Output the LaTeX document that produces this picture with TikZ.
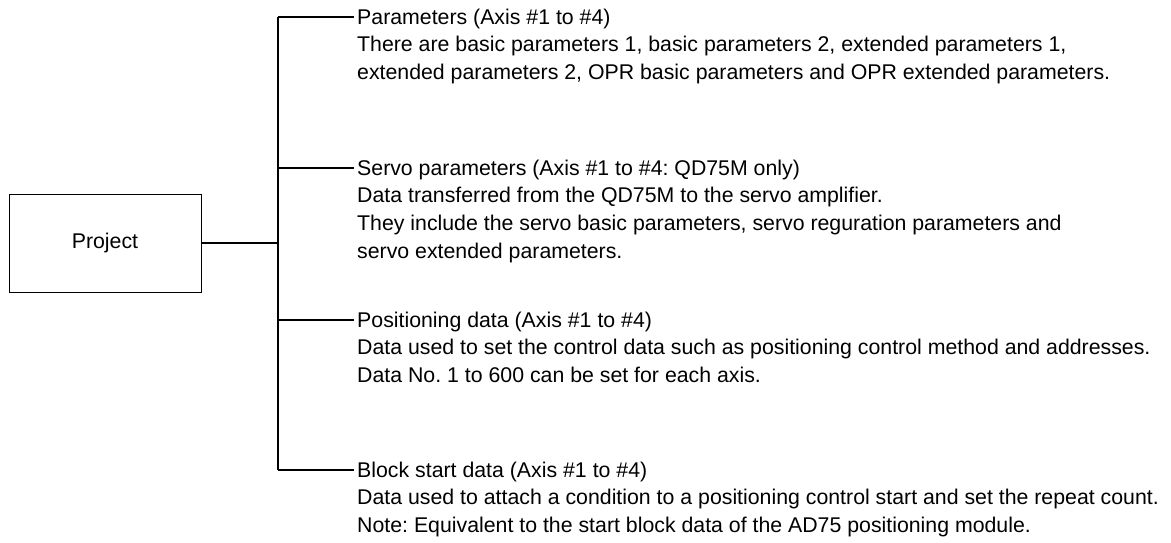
\documentclass[tikz,border=0pt]{standalone}
\usepackage{fontspec}
\setmainfont{Liberation Sans}
\usetikzlibrary{positioning}
\frenchspacing

\begin{document}
\begin{tikzpicture}[x=1pt, y=-1pt,
	box/.style={draw, line width=1pt, minimum width=192pt, minimum height=98pt,
		font=\fontsize{21.3}{27.7}\selectfont},
	item/.style={anchor=north west, align=left, inner sep=0pt,
		font=\fontsize{21.3}{27.7}\selectfont},
	conn/.style={line width=1.5pt}
]
	\useasboundingbox (0,0) rectangle (1171,542);
	\node[box] (proj) at (105,243) {Project};
	% points on the trunk
	\coordinate (trunk) at (278,243);
	\coordinate (b1) at (278,17);
	\coordinate (b2) at (278,168);
	\coordinate (b3) at (278,320);
	\coordinate (b4) at (278,470);
	\node[item] (par) at (357,8.5)
		{Parameters (Axis \#1 to \#4)\\
		There are basic parameters 1, basic parameters 2, extended parameters 1,\\
		extended parameters 2, OPR basic parameters and OPR extended parameters.};
	\node[item] (servo) at (357,159.5)
		{Servo parameters (Axis \#1 to \#4: QD75M only)\\
		Data transferred from the QD75M to the servo amplifier.\\
		They include the servo basic parameters, servo reguration parameters and\\
		servo extended parameters.};
	\node[item] (pos) at (357,311.5)
		{Positioning data (Axis \#1 to \#4)\\
		Data used to set the control data such as positioning control method and addresses.\\
		Data No. 1 to 600 can be set for each axis.};
	\node[item] (blk) at (357,461.5)
		{Block start data (Axis \#1 to \#4)\\
		Data used to attach a condition to a positioning control start and set the repeat count.\\
		Note: Equivalent to the start block data of the AD75 positioning module.};
	\draw[conn] (proj.east) -- (trunk);
	\draw[line width=2pt] (b1) -- (b4);
	\draw[conn] (b1) -- ([xshift=-3pt]par.north west |- b1);
	\draw[conn] (b2) -- ([xshift=-3pt]servo.north west |- b2);
	\draw[conn] (b3) -- ([xshift=-3pt]pos.north west |- b3);
	\draw[conn] (b4) -- ([xshift=-3pt]blk.north west |- b4);
\end{tikzpicture}
\end{document}
